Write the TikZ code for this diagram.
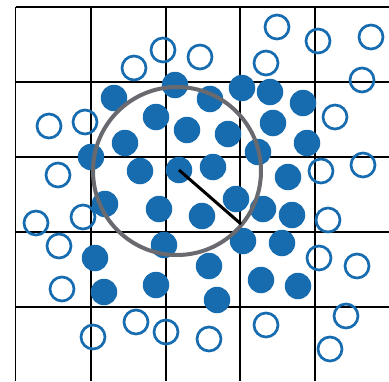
\documentclass[tikz,border=0pt]{standalone}
\begin{document}
\begin{tikzpicture}[x=1pt,y=-1pt,
  gridline/.style={line width=1.2pt,black},
  full/.style={circle,fill=dotblue,inner sep=0pt,minimum size=26.5pt},
  hollow/.style={circle,draw=dotblue,line width=2.7pt,inner sep=0pt,minimum size=24pt},
  bigring/.style={circle,draw=ringgray,line width=4pt,inner sep=0pt,minimum size=168pt},
  radius line/.style={line width=3pt,black}]
\definecolor{dotblue}{RGB}{22,108,175}
\definecolor{ringgray}{RGB}{105,105,112}
\useasboundingbox (0,0) rectangle (389,381);
% grid
\foreach \x in {15.5,91,166,240,315} \draw[gridline] (\x,7) -- (\x,381);
\foreach \y in {7,82,157,232,307} \draw[gridline] (15.5,\y) -- (389,\y);
% open circles
\foreach \p [count=\i] in {(277,27),(318,41),(371,37),(163,50),(200,57),(134,68),(266,63),(362,80),
  (49,126),(85,122),(335,117),(58,175),(321,171),(363,165),(36,223),(83,217),(328,220),(59,246),
  (319,258),(357,266),(62,289),(346,316),(136,322),(93,337),(166,332),(209,339),(266,325),(330,349)}
  \node[hollow] (o\i) at \p {};
% filled circles
\foreach \p [count=\i] in {(114,98),(175,85),(210,99),(242,88),(270,92),(303,103),(156,117),(187,130),
  (228,134),(273,123),(307,143),(91,157),(125,143),(140,171),(179,170),(213,167),(258,152),(288,177),
  (105,204),(159,209),(202,216),(236,199),(263,209),(292,215),(164,245),(243,241),(282,243),(95,258),
  (209,266),(261,280),(104,292),(156,285),(217,300),(298,286)}
  \node[full] (f\i) at \p {};
% big ring
\node[bigring] (ring) at (177,171) {};
\coordinate (rim) at (241,224);
\draw[radius line] (f15.center) -- (rim);
\end{tikzpicture}
\end{document}
